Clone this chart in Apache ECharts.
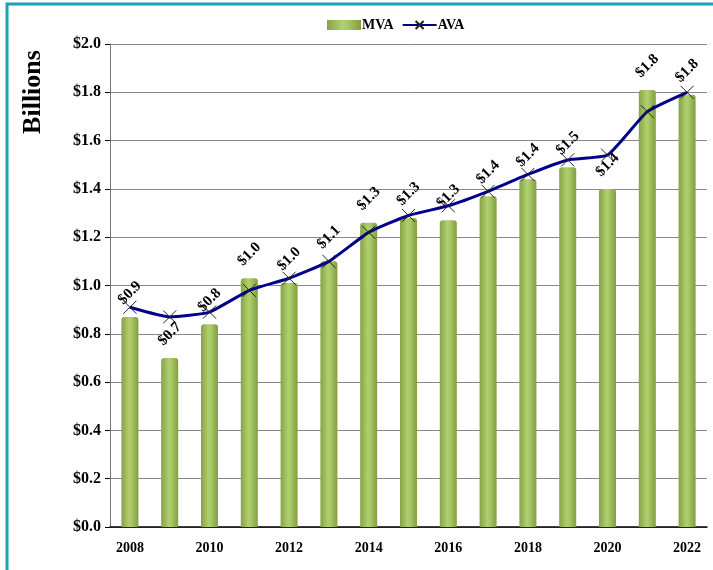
<!DOCTYPE html>
<html lang="en">
<head>
    <meta charset="UTF-8">
    <title>MVA vs AVA</title>
    <style>
        html, body { margin: 0; padding: 0; background: #fff; }
    </style>
</head>
<body>
    <div id="chart" style="width: 713px;height:570px;"></div>
</body>
</html>
<script src="https://cdn.jsdelivr.net/npm/echarts@6/dist/echarts.min.js"></script>
<script type="text/javascript">
    const chart = echarts.init(document.getElementById('chart'));

    const years = ['2008', '2009', '2010', '2011', '2012', '2013', '2014', '2015',
        '2016', '2017', '2018', '2019', '2020', '2021', '2022'];
    const mva = [0.87, 0.70, 0.84, 1.03, 1.01, 1.10, 1.26, 1.28, 1.27, 1.37, 1.44, 1.49, 1.40, 1.81, 1.79];
    const ava = [0.91, 0.87, 0.89, 0.98, 1.03, 1.10, 1.22, 1.29, 1.33, 1.39, 1.46, 1.52, 1.54, 1.72, 1.80];

    const font = 'Liberation Serif, Times New Roman, serif';

    const barColor = new echarts.graphic.LinearGradient(0, 0, 1, 0, [
        {offset: 0, color: '#86a246'},
        {offset: 0.45, color: '#b0cf6e'},
        {offset: 0.6, color: '#a8c765'},
        {offset: 1, color: '#829e40'}
    ]);

    chart.setOption({
        animation: false,
        textStyle: {fontFamily: font},
        graphic: [{
            type: 'rect',
            shape: {x: 7, y: 4, width: 720, height: 600},
            style: {fill: 'none', stroke: '#1ba3b5', lineWidth: 3}
        }, {
            // axis title, placed by hand as in the original
            type: 'text',
            x: 33,
            y: 92,
            rotation: Math.PI / 2,
            style: {
                text: 'Billions',
                font: 'bold 26px ' + font,
                fill: '#000',
                align: 'center',
                verticalAlign: 'middle'
            }
        }],
        legend: {
            top: 13,
            left: 322,
            itemGap: 8,
            itemWidth: 34,
            itemHeight: 10,
            textStyle: {fontFamily: font, fontWeight: 'bold', fontSize: 14, color: '#000', padding: [0, 0, 0, -4]},
            data: [
                {name: 'MVA', icon: 'rect'},
                {name: 'AVA'}
            ]
        },
        grid: {left: 110, right: 6, top: 44, bottom: 43, containLabel: false, outerBoundsMode: 'none'},
        xAxis: {
            type: 'category',
            data: years,
            axisLine: {lineStyle: {color: '#000', width: 1.5}},
            axisTick: {show: false},
            axisLabel: {
                interval: 1,
                margin: 14,
                fontFamily: font, fontWeight: 'bold', fontSize: 14, color: '#000'
            }
        },
        yAxis: {
            type: 'value',
            min: 0,
            max: 2,
            interval: 0.2,
            axisLine: {show: true, lineStyle: {color: '#777'}},
            axisTick: {show: true, length: 5, lineStyle: {color: '#000'}},
            splitLine: {lineStyle: {color: '#888'}},
            axisLabel: {
                margin: 9,
                fontFamily: font, fontWeight: 'bold', fontSize: 16, color: '#000',
                formatter: v => '$' + v.toFixed(1)
            }
        },
        series: [
            {
                name: 'MVA',
                type: 'bar',
                data: mva,
                barWidth: 17,
                itemStyle: {color: barColor, borderRadius: [3, 3, 0, 0]},
                label: {
                    show: true,
                    position: 'top',
                    distance: 24,
                    rotate: 45,
                    align: 'center',
                    verticalAlign: 'middle',
                    fontFamily: font, fontWeight: 'bold', fontSize: 15, color: '#000',
                    formatter: p => '$' + p.value.toFixed(1)
                },
                z: 2
            },
            {
                name: 'AVA',
                type: 'line',
                data: ava,
                smooth: 0.15,
                symbol: 'path://M0,0L10,10M10,0L0,10',
                symbolSize: 13,
                showAllSymbol: true,
                lineStyle: {color: '#00008b', width: 3},
                itemStyle: {color: 'none', borderColor: '#222', borderWidth: 1},
                z: 3
            }
        ]
    });
</script>
